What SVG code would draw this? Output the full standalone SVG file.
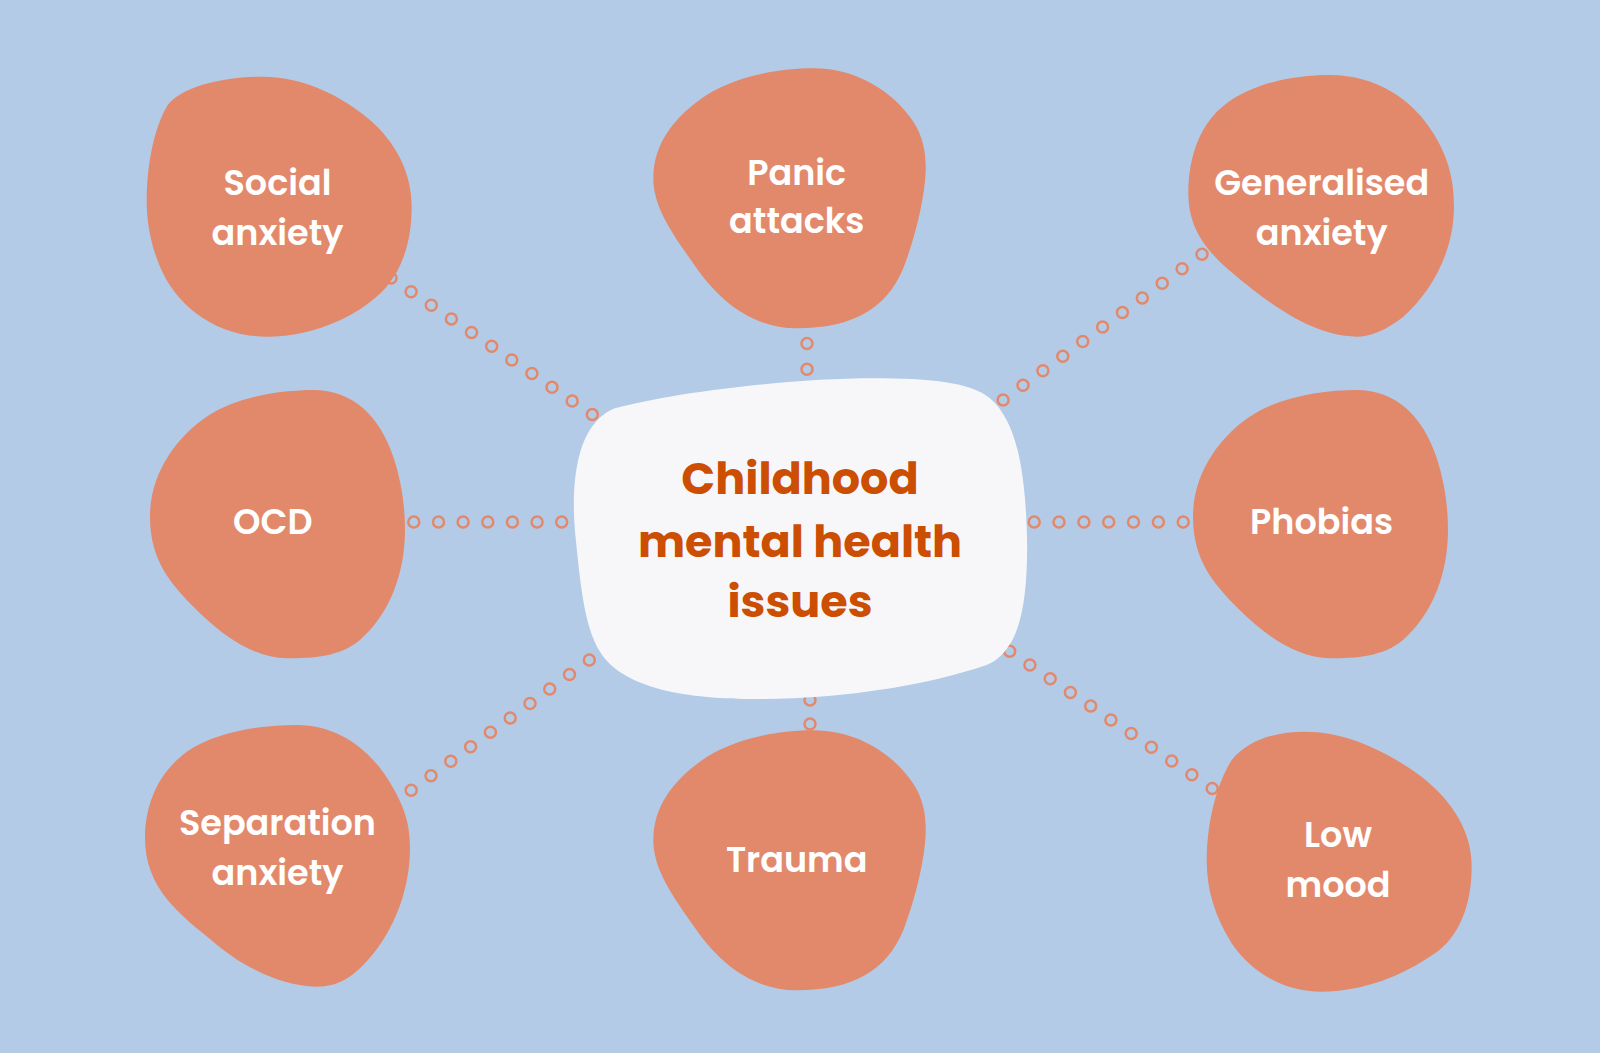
<svg xmlns="http://www.w3.org/2000/svg" width="1600" height="1053" viewBox="0 0 1600 1053">
<style>
.blob{fill:#e2896b}
.lbl{fill:#ffffff;font-family:Poppins,"Open Sans",sans-serif;font-weight:600;font-size:35px;text-anchor:middle}
.title{fill:#cc4e03;font-family:Poppins,"Open Sans",sans-serif;font-weight:700;font-size:44.5px;text-anchor:middle}
.dot{fill:none;stroke:#e2896b;stroke-width:2.5}
</style>
<rect width="1600" height="1053" fill="#b4cbe7"/>
<g id="connectors">
<g id="c-social">
<circle class="dot" cx="391" cy="278" r="5.5"/><circle class="dot" cx="411.1" cy="291.7" r="5.5"/><circle class="dot" cx="431.3" cy="305.3" r="5.5"/><circle class="dot" cx="451.4" cy="319" r="5.5"/><circle class="dot" cx="471.5" cy="332.6" r="5.5"/><circle class="dot" cx="491.7" cy="346.3" r="5.5"/><circle class="dot" cx="511.8" cy="359.9" r="5.5"/><circle class="dot" cx="531.9" cy="373.6" r="5.5"/><circle class="dot" cx="552" cy="387.2" r="5.5"/><circle class="dot" cx="572.2" cy="400.9" r="5.5"/><circle class="dot" cx="592.3" cy="414.5" r="5.5"/>
</g>
<g id="c-panic"><circle class="dot" cx="807" cy="343.5" r="5.5"/><circle class="dot" cx="807" cy="369.2" r="5.5"/></g>
<g id="c-general">
<circle class="dot" cx="1202" cy="254.2" r="5.5"/><circle class="dot" cx="1182.1" cy="268.8" r="5.5"/><circle class="dot" cx="1162.2" cy="283.3" r="5.5"/><circle class="dot" cx="1142.3" cy="297.9" r="5.5"/><circle class="dot" cx="1122.4" cy="312.5" r="5.5"/><circle class="dot" cx="1102.6" cy="327.1" r="5.5"/><circle class="dot" cx="1082.7" cy="341.6" r="5.5"/><circle class="dot" cx="1062.8" cy="356.2" r="5.5"/><circle class="dot" cx="1042.9" cy="370.8" r="5.5"/><circle class="dot" cx="1023" cy="385.3" r="5.5"/><circle class="dot" cx="1003.1" cy="399.9" r="5.5"/>
</g>
<g id="c-ocd">
<circle class="dot" cx="413.8" cy="522" r="5.5"/><circle class="dot" cx="438.5" cy="522" r="5.5"/><circle class="dot" cx="463.1" cy="522" r="5.5"/><circle class="dot" cx="487.8" cy="522" r="5.5"/><circle class="dot" cx="512.4" cy="522" r="5.5"/><circle class="dot" cx="537.1" cy="522" r="5.5"/><circle class="dot" cx="561.7" cy="522" r="5.5"/>
</g>
<g id="c-phobias">
<circle class="dot" cx="1034.2" cy="522" r="5.5"/><circle class="dot" cx="1059" cy="522" r="5.5"/><circle class="dot" cx="1083.9" cy="522" r="5.5"/><circle class="dot" cx="1108.7" cy="522" r="5.5"/><circle class="dot" cx="1133.5" cy="522" r="5.5"/><circle class="dot" cx="1158.4" cy="522" r="5.5"/><circle class="dot" cx="1183.2" cy="522" r="5.5"/>
</g>
<g id="c-separation">
<circle class="dot" cx="411.2" cy="790.2" r="5.5"/><circle class="dot" cx="431" cy="775.7" r="5.5"/><circle class="dot" cx="450.8" cy="761.3" r="5.5"/><circle class="dot" cx="470.6" cy="746.8" r="5.5"/><circle class="dot" cx="490.4" cy="732.3" r="5.5"/><circle class="dot" cx="510.2" cy="717.9" r="5.5"/><circle class="dot" cx="530" cy="703.4" r="5.5"/><circle class="dot" cx="549.7" cy="688.9" r="5.5"/><circle class="dot" cx="569.5" cy="674.5" r="5.5"/><circle class="dot" cx="589.3" cy="660" r="5.5"/>
</g>
<g id="c-trauma"><circle class="dot" cx="810" cy="700.1" r="5.5"/><circle class="dot" cx="810" cy="724" r="5.5"/></g>
<g id="c-lowmood">
<circle class="dot" cx="1009.7" cy="651.2" r="5.5"/><circle class="dot" cx="1029.9" cy="664.9" r="5.5"/><circle class="dot" cx="1050.2" cy="678.7" r="5.5"/><circle class="dot" cx="1070.4" cy="692.4" r="5.5"/><circle class="dot" cx="1090.7" cy="706.1" r="5.5"/><circle class="dot" cx="1110.9" cy="719.9" r="5.5"/><circle class="dot" cx="1131.2" cy="733.6" r="5.5"/><circle class="dot" cx="1151.4" cy="747.3" r="5.5"/><circle class="dot" cx="1171.7" cy="761" r="5.5"/><circle class="dot" cx="1191.9" cy="774.8" r="5.5"/><circle class="dot" cx="1212.2" cy="788.5" r="5.5"/>
</g>
</g>
<g id="center">
<path fill="#f7f7fa" transform="translate(560,365) scale(0.3333)" d="M 165,130 C 350,80 700,40 940,40 C 1100,40 1230,50 1290,100 C 1360,160 1385,280 1395,400 C 1405,520 1410,720 1360,820 C 1340,860 1310,890 1280,900 C 1100,960 900,990 700,1000 C 450,1010 200,990 120,860 C 70,780 60,640 45,500 C 35,380 45,250 100,180 C 120,155 140,140 165,130 Z"/>
<text class="title" x="800" y="494">Childhood</text>
<text class="title" x="800" y="556.7">mental health</text>
<text class="title" x="800" y="617.3">issues</text>
</g>
<g id="social">
<path class="blob" transform="translate(130,60) scale(0.3333)" d="M 400,50 C 520,50 640,110 720,180 C 800,250 845,340 845,440 C 845,540 820,620 770,680 C 700,760 560,830 410,830 C 260,830 140,740 90,620 C 60,550 50,480 50,420 C 50,320 70,210 110,140 C 150,80 280,50 400,50 Z"/>
<text class="lbl" x="277.5" y="195">Social</text>
<text class="lbl" x="277.5" y="245">anxiety</text>
</g>
<g id="panic">
<path class="blob" transform="translate(640,55) scale(0.3333)" d="M 520,40 C 650,40 760,110 820,200 C 860,260 860,330 855,380 C 845,470 820,560 790,640 C 740,760 640,820 470,820 C 340,820 240,740 170,640 C 100,540 40,460 40,370 C 40,260 110,180 200,120 C 300,60 420,40 520,40 Z"/>
<text class="lbl" x="796.7" y="185">Panic</text>
<text class="lbl" x="796.7" y="233.3">attacks</text>
</g>
<g id="generalised">
<path class="blob" transform="translate(1170,60) scale(0.3333)" d="M 480,45 C 620,45 730,120 790,220 C 840,300 852,370 852,440 C 852,580 780,700 700,770 C 650,810 600,830 560,830 C 450,830 340,760 250,690 C 150,610 55,540 55,400 C 55,290 90,190 170,130 C 250,70 370,45 480,45 Z"/>
<text class="lbl" x="1321.7" y="194.5">Generalised</text>
<text class="lbl" x="1321.7" y="244.5">anxiety</text>
</g>
<g id="ocd">
<path class="blob" transform="translate(140,380) scale(0.3333)" d="M 520,30 C 640,30 720,110 760,230 C 790,320 795,400 795,450 C 795,580 750,700 660,780 C 600,830 520,835 440,835 C 340,835 240,760 170,690 C 90,610 30,540 30,410 C 30,280 110,170 200,110 C 290,50 420,30 520,30 Z"/>
<text class="lbl" x="272.8" y="534">OCD</text>
</g>
<g id="phobias">
<path class="blob" transform="translate(1183,380) scale(0.3333)" d="M 520,30 C 640,30 720,110 760,230 C 790,320 795,400 795,450 C 795,580 750,700 660,780 C 600,830 520,835 440,835 C 340,835 240,760 170,690 C 90,610 30,540 30,410 C 30,280 110,170 200,110 C 290,50 420,30 520,30 Z"/>
<text class="lbl" x="1321.5" y="534">Phobias</text>
</g>
<g id="separation">
<path class="blob" transform="translate(130,715) scale(0.3333)" d="M 500,30 C 630,30 730,110 790,220 C 830,290 840,340 840,400 C 840,540 780,670 700,750 C 650,800 610,815 560,815 C 450,815 330,750 250,680 C 150,600 45,520 45,370 C 45,260 90,170 170,110 C 260,50 390,30 500,30 Z"/>
<text class="lbl" x="277.5" y="835">Separation</text>
<text class="lbl" x="277.5" y="884.5">anxiety</text>
</g>
<g id="trauma">
<path class="blob" transform="translate(640,717) scale(0.3333)" d="M 520,40 C 650,40 760,110 820,200 C 860,260 860,330 855,380 C 845,470 820,560 790,640 C 740,760 640,820 470,820 C 340,820 240,740 170,640 C 100,540 40,460 40,370 C 40,260 110,180 200,120 C 300,60 420,40 520,40 Z"/>
<text class="lbl" x="796.7" y="871.7">Trauma</text>
</g>
<g id="lowmood">
<path class="blob" transform="translate(1195,720) scale(0.3333)" d="M 330,35 C 450,35 570,90 680,170 C 780,250 830,340 830,440 C 830,560 790,650 720,700 C 620,770 500,815 380,815 C 270,815 170,760 110,670 C 60,590 35,510 35,420 C 35,320 60,200 110,120 C 160,60 240,35 330,35 Z"/>
<text class="lbl" x="1338" y="847.3">Low</text>
<text class="lbl" x="1338" y="896.7">mood</text>
</g>
</svg>
